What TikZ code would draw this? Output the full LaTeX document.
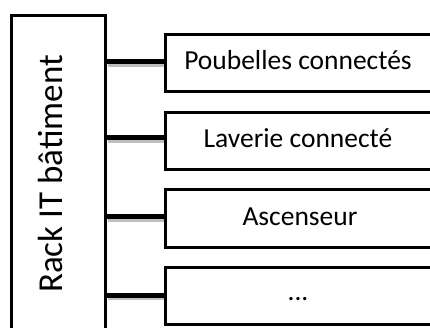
\documentclass[tikz,border=0pt]{standalone}
\usepackage{fontspec}
\setmainfont{Carlito}
\begin{document}
\begin{tikzpicture}[x=1pt,y=-1pt,
  box/.style={draw=black,line width=3pt,fill=white,inner sep=0pt},
  conn/.style={line width=5pt,black},
  shadowline/.style={line width=4pt,black!25},
  lbl/.style={font=\fontsize{27.5}{30}\selectfont}]
\useasboundingbox (0,0) rectangle (430,328);
\fill[white] (0,0) rectangle (430,328);
% rack
\node[box,minimum width=94,minimum height=324,anchor=north west] (rack) at (9.5,14.5) {};
\node[rotate=90,font=\fontsize{35}{38}\selectfont] (racktxt) at (50,174) {Rack IT bâtiment};
% boxes
\foreach \n/\y in {b1/33.5,b2/111,b3/188.5,b4/266}{
  \draw[black!25,line width=2pt] (165,\y+59) -- (430,\y+59);
  \node[box,minimum width=280,minimum height=57,anchor=north west] (\n) at (163.5,\y) {};
}
\node[lbl] (t1) at (298,60) {Poubelles connectés};
\node[lbl] (t2) at (298,138) {Laverie connecté};
\node[lbl] (t3) at (300,217) {Ascenseur};
\node[lbl] (t4) at (298,299) {...};
% connectors
\foreach \n/\y in {b1/62,b2/138,b3/217,b4/295}{
  \coordinate (s\n) at (rack.east |- 0,\y);
  \draw[shadowline] ([shift={(1.5,3)}]s\n) -- ([shift={(0,3)}]\n.west |- s\n);
  \draw[conn] (s\n) -- (\n.west |- s\n);
}
\end{tikzpicture}
\end{document}
